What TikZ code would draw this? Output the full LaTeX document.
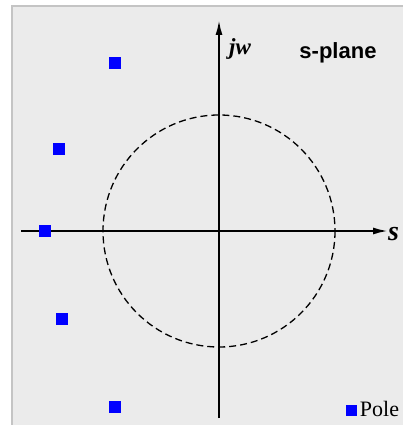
\documentclass[tikz,border=0pt]{standalone}
\usepackage{fontspec}
\setmainfont{Liberation Serif}
\setsansfont{Liberation Sans}
\usetikzlibrary{arrows.meta, positioning}
\definecolor{panelgray}{HTML}{EBEBEB}
\definecolor{framegray}{HTML}{C4C4C4}
\definecolor{poleblue}{HTML}{0000FF}

\begin{document}
\begin{tikzpicture}[
    x=1pt, y=-1pt,
    pole/.style={
        fill=poleblue, draw=none,
        rectangle, minimum size=12pt,
        inner sep=0pt
    },
    axis/.style={
        -{Latex[length=15pt, width=7pt]}, line width=2pt, draw=black
    },
    lbl/.style={
        inner sep=0pt, text=black
    },
]
\useasboundingbox (0,0) rectangle (402,425);
\fill[white] (0,0) rectangle (402,425);
\draw[framegray, line width=2pt, fill=panelgray] (12,6) rectangle (404,427);

% axes
\coordinate (origin) at (219,231);
\coordinate (xstart) at (21,231);
\coordinate (xend) at (388,231);
\coordinate (ystart) at (219,418);
\coordinate (yend) at (219,20);
\draw[axis] (xstart) -- (xend);
\draw[axis] (ystart) -- (yend);

% unit circle
\draw[dashed, line width=1.3pt, dash pattern=on 7pt off 4pt] (origin) circle (116);

% poles
\node[pole] (p1) at (115,63) {};
\node[pole] (p2) at (59,149) {};
\node[pole] (p3) at (45,231) {};
\node[pole] (p4) at (62,319) {};
\node[pole] (p5) at (115,407) {};

% labels
\node[lbl, font=\fontsize{23}{23}\selectfont\bfseries\itshape] (jw) at (240,49) {jw};
\node[lbl, font=\fontsize{22}{22}\selectfont\sffamily\bfseries] (plane) at (338,53) {s-plane};
\node[lbl, font=\fontsize{28}{28}\selectfont\bfseries\itshape, anchor=west] (sig) at (388,234) {s};

% legend
\node[pole, minimum size=11pt] (key) at (351,410) {};
\node[lbl, font=\fontsize{22}{22}\selectfont, right=3pt of key, yshift=1pt] (keytxt) {Pole};
\end{tikzpicture}
\end{document}
